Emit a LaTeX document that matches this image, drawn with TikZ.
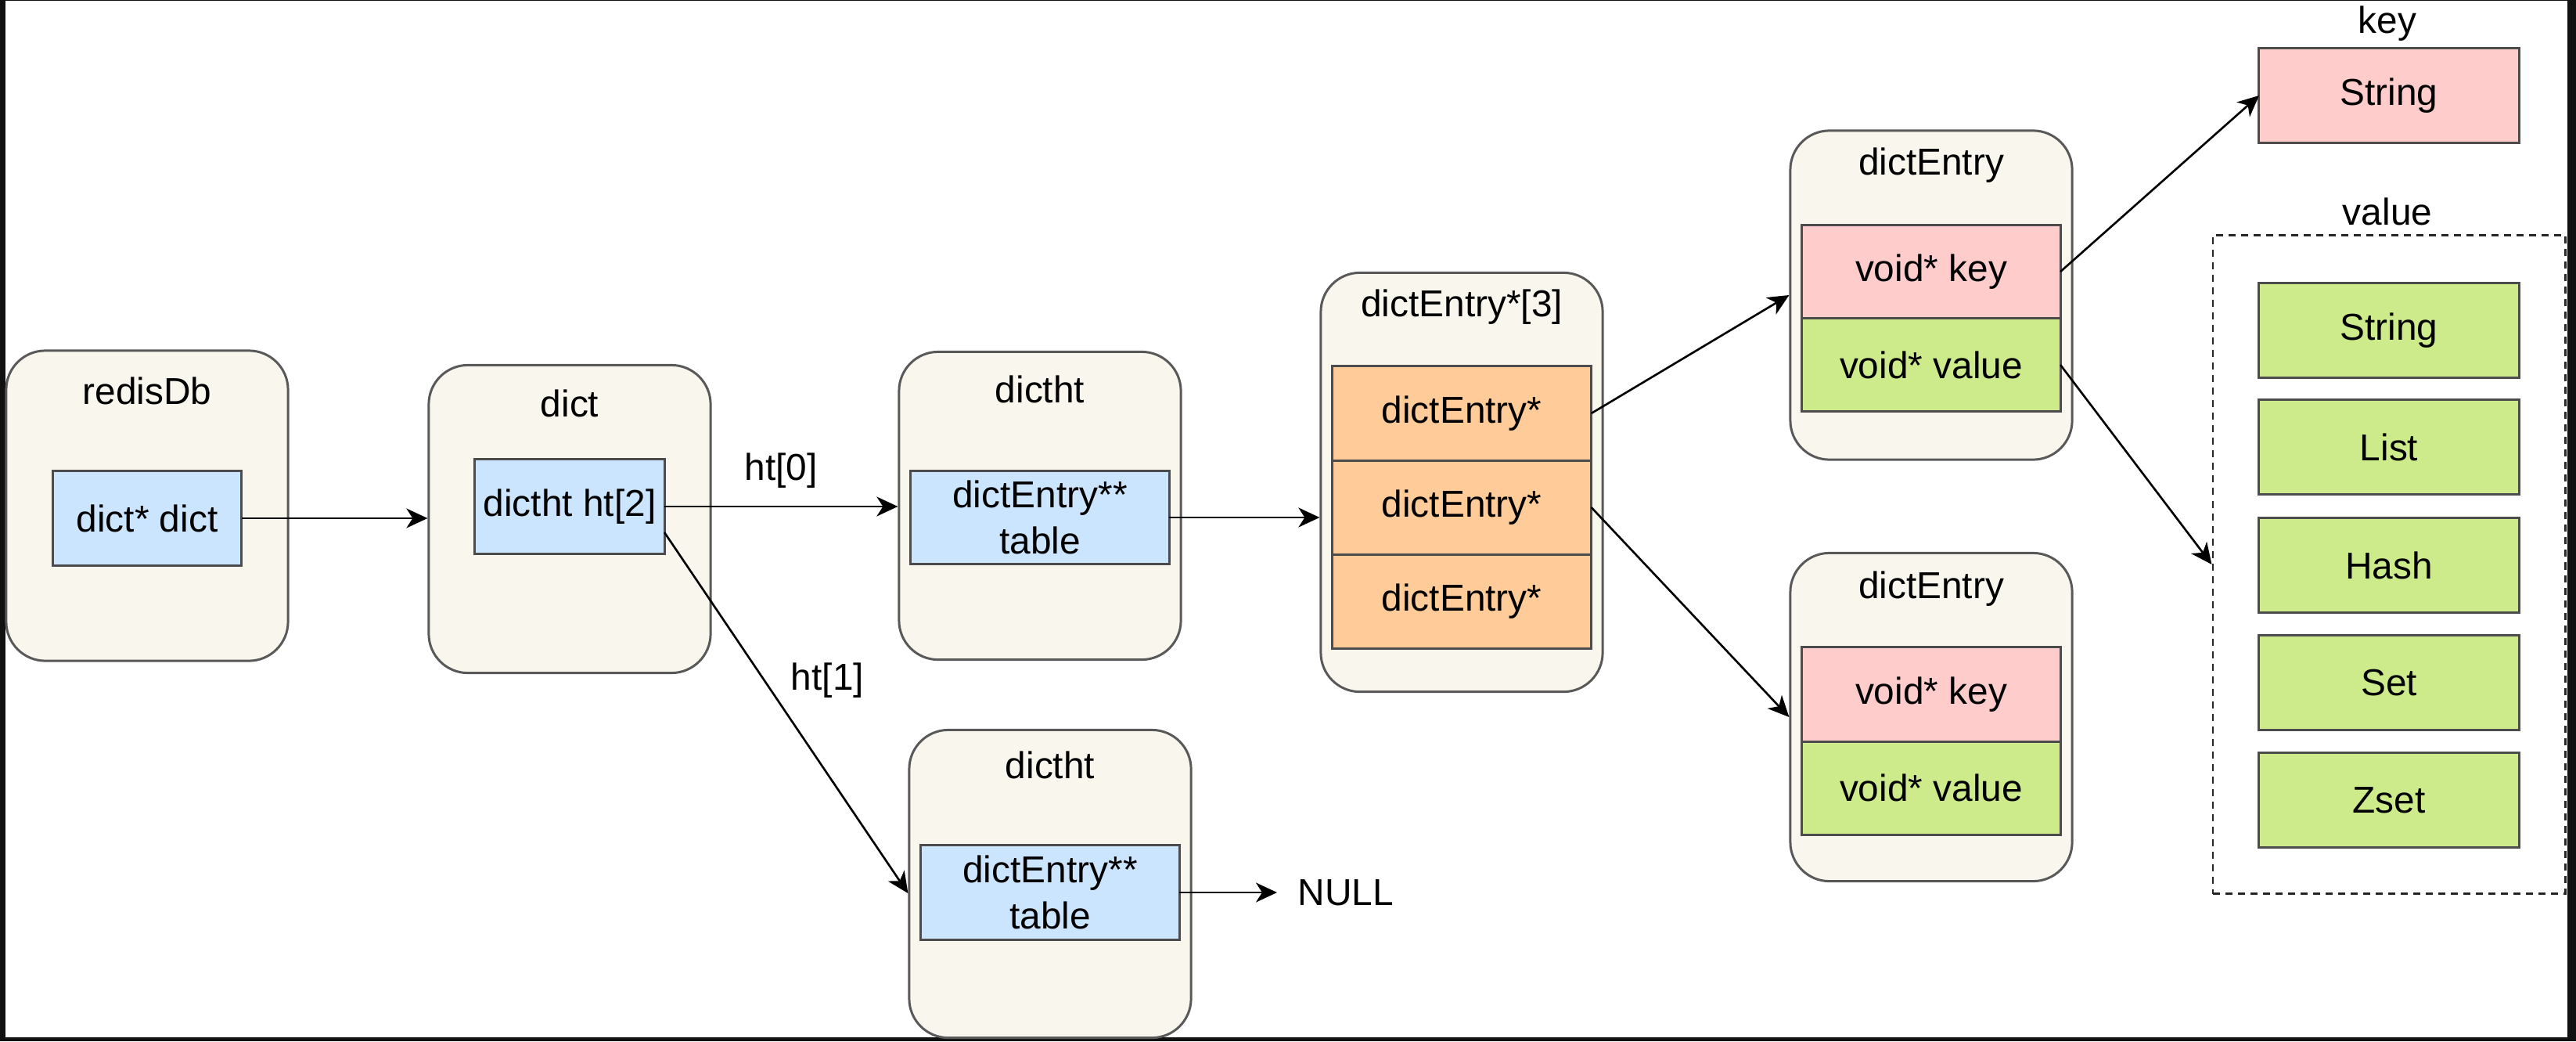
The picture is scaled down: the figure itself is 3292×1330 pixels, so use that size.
\documentclass[tikz,border=0pt]{standalone}
\usepackage{fontspec}
\setmainfont{Liberation Sans}
\usepackage{tikz}
\usetikzlibrary{positioning, arrows.meta, calc}

\definecolor{holdercream}{HTML}{F9F7ED}
\definecolor{ptrblue}{HTML}{CCE5FF}
\definecolor{slotorange}{HTML}{FFCC99}
\definecolor{keypink}{HTML}{FFCCCC}
\definecolor{valgreen}{HTML}{CDEB8B}
\definecolor{framegray}{HTML}{111111}

\begin{document}
\begin{tikzpicture}[
        x=0.01cm, y=-0.01cm,
        font=\fontsize{13.6}{16.8}\selectfont,
        holder/.style={rectangle, draw=black!65, fill=holdercream, line width=0.85pt, rounded corners=0.5cm, minimum width=3.6cm},
        field/.style={rectangle, draw=black!70, line width=0.85pt, minimum width=3.3cm, minimum height=1.2cm, inner sep=0pt, outer sep=0pt, align=center},
        title/.style={inner sep=0pt},
        arrow/.style={-{Stealth[length=0.27cm, width=0.25cm, inset=0.08cm]}, line width=0.75pt, black}
    ]
        % Frame
        \fill[framegray] (0,0) rectangle (3292,1330);
        \fill[white] (7,1) rectangle (3281,1325);
        \useasboundingbox (0,0) rectangle (3292,1330);

        % Holders
        \node[holder, minimum height=3.96cm] (db) at (188,646) {};
        \node[holder, minimum height=3.93cm] (dict) at (728,663) {};
        \node[holder, minimum height=3.93cm] (ht0) at (1329,646) {};
        \node[holder, minimum height=3.93cm] (ht1) at (1342,1129) {};
        \node[holder, minimum height=5.35cm] (slots) at (1868,616) {};
        \node[holder, minimum height=4.2cm] (entA) at (2468,377) {};
        \node[holder, minimum height=4.19cm] (entB) at (2468,916) {};

        % Titles
        \node[title] at ([yshift=-0.53cm]db.north) {redisDb};
        \node[title] at ([yshift=-0.5cm]dict.north) {dict};
        \node[title] at ([yshift=-0.49cm]ht0.north) {dictht};
        \node[title] at ([yshift=-0.46cm]ht1.north) {dictht};
        \node[title] at ([yshift=-0.45cm]slots.north) {dictEntry*[3]};
        \node[title] at ([yshift=-0.46cm]entA.north) {dictEntry};
        \node[title] at ([yshift=-0.47cm]entB.north) {dictEntry};

        % Fields
        \node[field, fill=ptrblue, minimum width=2.41cm] (dbf) at (188,662) {dict* dict};
        \node[field, fill=ptrblue, minimum width=2.42cm] (htf) at (728,647) {dictht ht[2]};
        \node[field, fill=ptrblue, minimum height=1.19cm] (tbl0) at (1329,661) {dictEntry**\\table};
        \node[field, fill=ptrblue, minimum height=1.2cm] (tbl1) at (1342,1140) {dictEntry**\\table};
        \node[field, fill=slotorange, minimum width=3.31cm] (slot1) at (1868,528) {dictEntry*};
        \node[field, fill=slotorange, minimum width=3.31cm, below=0pt of slot1] (slot2) {dictEntry*};
        \node[field, fill=slotorange, minimum width=3.31cm, below=0pt of slot2] (slot3) {dictEntry*};
        \node[field, fill=keypink, minimum height=1.19cm] (keyA) at (2468,347) {void* key};
        \node[field, fill=valgreen, minimum height=1.19cm, below=0pt of keyA] (valA) {void* value};
        \node[field, fill=keypink, minimum height=1.2cm] (keyB) at (2468,887) {void* key};
        \node[field, fill=valgreen, minimum height=1.19cm, below=0pt of keyB] (valB) {void* value};
        \node[anchor=west, inner xsep=0.26cm, inner ysep=0pt] (null) at (1632,1140) {NULL};

        % Key and value types
        \node[title] (keyhead) at (3051,30) {key};
        \node[field, fill=keypink, minimum width=3.32cm] (keystr) at (3053,122) {String};
        \node[title] (valhead) at (3051,270) {value};
        \node[draw=black!85, dash pattern=on 0.09cm off 0.07cm, line width=0.8pt, minimum width=4.5cm, minimum height=8.41cm, inner sep=0pt] (types) at (3053,721) {};
        \node[field, fill=valgreen, minimum width=3.32cm] (tstr) at (3053,422) {String};
        \node[field, fill=valgreen, minimum width=3.32cm] (tlist) at (3053,571) {List};
        \node[field, fill=valgreen, minimum width=3.32cm] (thash) at (3053,722) {Hash};
        \node[field, fill=valgreen, minimum width=3.32cm] (tset) at (3053,872) {Set};
        \node[field, fill=valgreen, minimum width=3.32cm] (tzset) at (3053,1022) {Zset};

        % Pointers
        \draw[arrow] (dbf.east) -- (dbf.east -| dict.west);
        \draw[arrow] (htf.east) -- (htf.east -| ht0.west) node[midway, above=3pt] {ht[0]};
        \draw[arrow] ([yshift=-0.33cm]htf.east) -- ([yshift=-0.12cm]ht1.west) node[pos=0.41, right=6pt] {ht[1]};
        \draw[arrow] (tbl0.east) -- (tbl0.east -| slots.west);
        \draw[arrow] (tbl1.east) -- (null.west);
        \draw[arrow] (slot1.east) -- (entA.west);
        \draw[arrow] (slot2.east) -- (entB.west);
        \draw[arrow] (keyA.east) -- (keystr.west);
        \draw[arrow] (valA.east) -- (types.west);
\end{tikzpicture}
\end{document}
